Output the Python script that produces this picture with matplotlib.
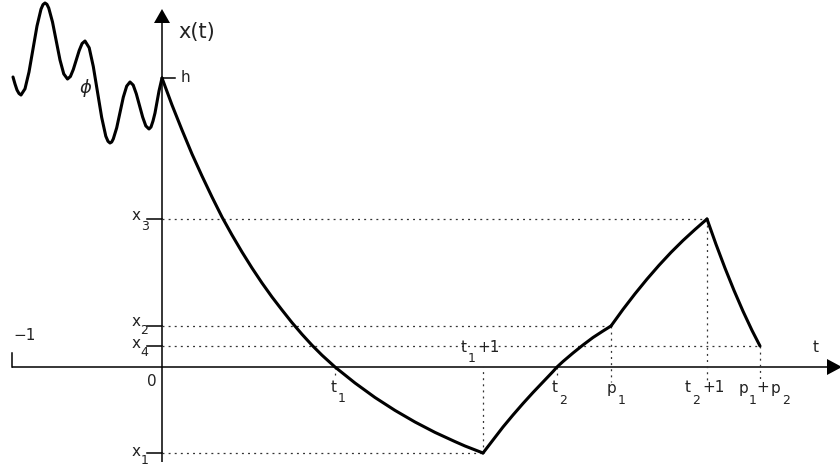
import matplotlib
matplotlib.use("Agg")
import matplotlib.pyplot as plt
from matplotlib.patches import Polygon

plt.rcParams['font.family'] = ['DejaVu Sans']
plt.rcParams['lines.scale_dashes'] = False

# ---- data (arbitrary units; origin at the axes crossing) ----
# history function phi on [-1, 0]
phi_t = [-149, -147, -145, -143, -141,
         -137, -133, -129, -125, -121, -119, -117,
         -115.1, -113.25, -109.5, -105.75, -102, -98.25, -94.5,
         -91.6, -88.7, -85.75, -82.8, -79.9, -77,
         -72.8, -68.7, -64.5, -60.3, -56.2, -54, -52,
         -50.3, -48.7, -45.3, -42, -38.7, -35.3, -32,
         -28.8, -25.7, -22.5, -19.3, -16.2, -13,
         -11, -9, -7, -5, -3, 0]
phi_x = [290, 283, 277, 273.5, 272,
         278.2, 295, 318, 341, 357.8, 362.4, 364,
         362.7, 358.9, 345, 326, 307, 293.1, 288,
         290.5, 297.5, 307, 316.5, 323.5, 326,
         319.2, 300.5, 275, 249.5, 230.8, 225.7, 224,
         225, 228.1, 239.2, 254.5, 269.8, 280.9, 285,
         281.9, 273.2, 261.5, 249.8, 241.1, 238,
         240, 246, 254, 265, 276, 289]

# solution x(t)
seg1_t = [0, 10, 20, 30, 40, 50, 60, 70, 80, 90, 100, 110, 120, 130, 140, 150, 160, 173,
          183, 193, 213, 233, 253, 273, 293, 303, 321]
seg1_x = [289, 262, 237, 213, 191, 170, 150, 132, 115, 99, 84, 70, 57, 44.4, 32.7, 21.8, 11.8, 0,
          -8, -16, -30.5, -43.4, -55, -65.4, -74.6, -79, -86]
seg2_t = [321, 331, 341, 351, 361, 371, 381, 391, 395, 401, 411, 421, 431, 441, 449]
seg2_x = [-86, -73, -60, -48, -36.5, -25.5, -15, -4.5, 0, 5.5, 14, 22, 29.5, 36, 41]
seg3_t = [449, 461, 473, 485, 497, 509, 521, 533, 545]
seg3_x = [41, 57.6, 73.2, 87.9, 101.7, 114.6, 126.5, 137.5, 148]
seg4_t = [545, 554, 563, 572, 581, 590, 598]
seg4_x = [148, 122.7, 98.9, 76.6, 55.8, 36.6, 21]

# characteristic values
h = 289
x1, x2, x3, x4 = -86, 41, 148, 21
t1, t1p1, t2, t2p1, p1, p1p2 = 173, 321, 395, 545, 449, 598
minus_one = -150

# ---- figure ----
fig = plt.figure(figsize=(8.4, 4.7), dpi=100)
ax = fig.add_axes([0, 0, 1, 1])
ax.set_xlim(-162, 678)
ax.set_ylim(-103, 367)
ax.axis('off')

K = 'black'
axlw = 1.1
dot = dict(color='#333333', lw=0.9, linestyle=(0, (1.4, 3.0)))

# axes
ax.plot([minus_one, 690], [0, 0], color=K, lw=axlw, solid_capstyle='butt')
ax.plot([0, 0], [-95, 345], color=K, lw=axlw, solid_capstyle='butt')
ax.add_patch(Polygon([[-8, 344], [8, 344], [0, 358]], closed=True, color=K, lw=0))
ax.add_patch(Polygon([[665, 8], [665, -8], [680, 0]], closed=True, color=K, lw=0))
ax.plot([minus_one, minus_one], [0, 14], color=K, lw=axlw)

# y ticks
ax.plot([0, 13], [h, h], color=K, lw=axlw)
for yv in (x1, x2, x3, x4):
    ax.plot([-15, 0], [yv, yv], color=K, lw=axlw)

# dotted guide lines
ax.plot([0, t2p1], [x3, x3], **dot)
ax.plot([0, p1], [x2, x2], **dot)
ax.plot([0, p1p2], [x4, x4], **dot)
ax.plot([0, t1p1], [x1, x1], **dot)
ax.plot([t1p1, t1p1], [x1, 0], **dot)
ax.plot([t2p1, t2p1], [x3, -15], **dot)
ax.plot([p1, p1], [x2, -15], **dot)
ax.plot([p1p2, p1p2], [x4, -15], **dot)
ax.plot([t1, t1], [0, -8], **dot)
ax.plot([t2, t2], [0, -8], **dot)

# curves
clw = 2.2
ax.plot(phi_t, phi_x, color=K, lw=clw, solid_joinstyle='round', solid_capstyle='round')
for tt, xx in ((seg1_t, seg1_x), (seg2_t, seg2_x), (seg3_t, seg3_x), (seg4_t, seg4_x)):
    ax.plot(tt, xx, color=K, lw=clw, solid_joinstyle='round', solid_capstyle='round')

# ---- labels ----
FS = 11
SS = 9
tc = '#222222'

def txt(x, y, s, size=FS, ha='center'):
    ax.text(x, y, s, fontsize=size, ha=ha, va='center', color=tc)

def sub(x, y, base, s, dx=8, dy=-12):
    txt(x, y, base)
    txt(x + dx, y + dy, s, size=SS)

txt(16, 335, 'x(t)', size=15, ha='left')
txt(19, h, 'h', ha='left')
ax.text(-76, 279, r'$\phi$', fontsize=13, ha='center', va='center', color=tc)
txt(-149, 32, '\u22121', ha='left')
txt(-10, -15, '0')
txt(654, 19, 't')

sub(-26, x3 + 4, 'x', '3', dx=9, dy=-12)
sub(-26, x2 + 4, 'x', '2', dx=8, dy=-9)
sub(-26, x4 + 3, 'x', '4', dx=8, dy=-10)
sub(-26, x1 + 2, 'x', '1', dx=9, dy=-10)

sub(t1 - 1, -20, 't', '1', dx=8, dy=-12)
sub(t1p1 - 19, 20, 't', '1', dx=8, dy=-12)
txt(t1p1 - 6, 20, '+1', ha='left')
sub(t2 - 2, -21, 't', '2', dx=8, dy=-12)
sub(p1 + 1, -22, 'p', '1', dx=10, dy=-11)
sub(t2p1 - 19, -21, 't', '2', dx=8, dy=-12)
txt(t2p1 - 5, -21, '+1', ha='left')
sub(p1p2 - 17, -22, 'p', '1', dx=10, dy=-11)
txt(p1p2 + 3, -21, '+')
sub(p1p2 + 16, -22, 'p', '2', dx=10, dy=-11)

fig.savefig('out.png', dpi=100)
